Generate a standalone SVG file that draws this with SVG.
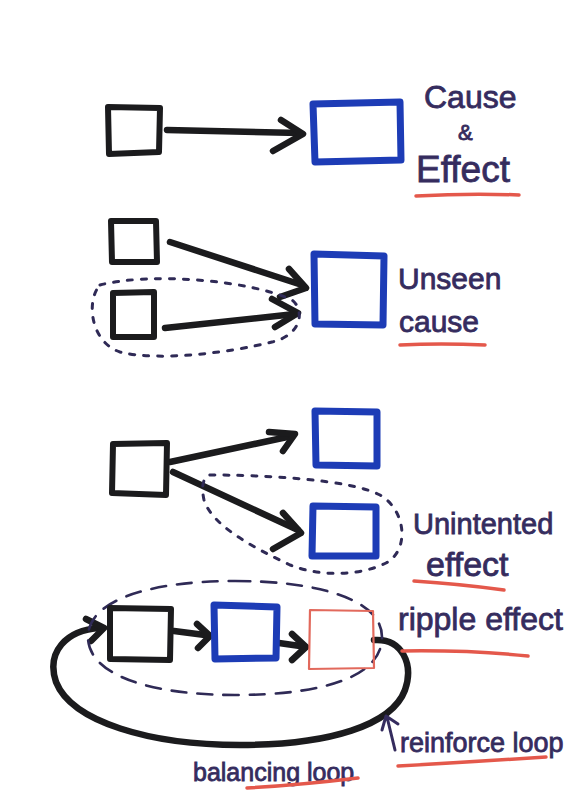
<svg xmlns="http://www.w3.org/2000/svg" width="573" height="791" viewBox="0 0 573 791">
  <style>
    .bk { fill: none; stroke: #1b1b1d; stroke-width: 6; stroke-linejoin: round; stroke-linecap: round; }
    .bl { fill: none; stroke: #1d3cb6; stroke-width: 7; stroke-linejoin: round; stroke-linecap: round; }
    .rd { fill: none; stroke: #e2695c; stroke-width: 2.2; stroke-linejoin: round; }
    .arr { fill: none; stroke: #1b1b1d; stroke-width: 6.5; stroke-linecap: round; stroke-linejoin: round; }
    .dot { fill: none; stroke: #2f2a56; stroke-width: 3; stroke-linecap: round; stroke-dasharray: 5 9; }
    .dash { fill: none; stroke: #2f2a56; stroke-width: 2.6; stroke-linecap: round; stroke-dasharray: 15 11; }
    .ul { fill: none; stroke: #e4584b; stroke-width: 3.5; stroke-linecap: round; }
    .lbl { font-family: "Liberation Sans", Arial, sans-serif; fill: #352c5e; stroke: #352c5e; stroke-width: 0.8; }
  </style>
  <rect width="573" height="791" fill="#ffffff"/>

  <!-- connectors -->
  <g id="connectors">
    <!-- cause and effect -->
    <path class="arr" d="M167,130 L300,133"/>
    <path class="arr" d="M281,120 L303,134 L273,151"/>
    <!-- unseen cause -->
    <path class="arr" d="M170,242 L302,285"/>
    <path class="arr" d="M289,269 L306,288 L280,297"/>
    <path class="arr" d="M165,328 L295,314"/>
    <path class="arr" d="M272,299 L298,313 L275,327"/>
    <!-- unintended effect -->
    <path class="arr" d="M170,462 L292,436"/>
    <path class="arr" d="M269,432 L295,434 L283,451"/>
    <path class="arr" d="M173,472 L298,530"/>
    <path class="arr" d="M283,513 L301,533 L273,549"/>
    <!-- ripple effect chain -->
    <path class="arr" d="M174,631 L205,635"/>
    <path class="arr" d="M197,624 L210,636 L198,648"/>
    <path class="arr" d="M279,643 L300,646"/>
    <path class="arr" d="M292,634 L306,647 L292,660"/>
    <!-- feedback loop -->
    <path class="arr" d="M374,640 C402,638 414,664 405,690 C392,725 330,745 240,745 C150,745 72,722 56,682 C46,652 66,630 100,628"/>
    <path class="arr" d="M86,619 L104,628 L91,641"/>
  </g>

  <!-- groupings -->
  <g id="groupings">
    <path class="dot" d="M100,285 C150,272 250,280 292,300 C305,310 302,335 272,342 C232,352 160,362 120,352 C90,342 86,300 100,285 Z"/>
    <path class="dot" d="M210,475 C260,475 350,479 380,495 C406,510 410,550 386,563 C360,576 320,577 290,565 C250,546 212,525 204,500 C201,486 203,477 210,475 Z"/>
    <path class="dash" d="M235,581 C320,581 382,600 382,637 C382,678 320,695 235,695 C150,695 88,675 88,637 C88,600 150,581 235,581 Z"/>
  </g>

  <!-- cause and effect -->
  <g id="ce-cause"><path class="bk" d="M108,107 L160,108 L159,152 L109,154 Z"/></g>
  <g id="ce-effect"><path class="bl" d="M313,104 L400,102 L401,160 L315,162 Z"/></g>
  <g id="ce-label">
    <text class="lbl" x="424" y="108" font-size="32">Cause</text>
    <text class="lbl" x="458" y="140" font-size="22">&amp;</text>
    <text class="lbl" x="416" y="182" font-size="37">Effect</text>
    <path class="ul" d="M416,196 Q470,193 519,195"/>
  </g>

  <!-- unseen cause -->
  <g id="uc-cause-a"><path class="bk" d="M111,221 L156,221 L157,262 L112,262 Z"/></g>
  <g id="uc-cause-b"><path class="bk" d="M113,293 L154,292 L154,337 L113,337 Z"/></g>
  <g id="uc-effect"><path class="bl" d="M314,254 L384,256 L383,325 L315,324 Z"/></g>
  <g id="uc-label">
    <text class="lbl" x="398" y="289" font-size="30">Unseen</text>
    <text class="lbl" x="399" y="332" font-size="30">cause</text>
    <path class="ul" d="M400,345 Q440,343 485,345"/>
  </g>

  <!-- unintended effect -->
  <g id="ue-cause"><path class="bk" d="M113,444 L167,443 L166,495 L112,493 Z"/></g>
  <g id="ue-effect-a"><path class="bl" d="M315,411 L377,412 L377,466 L316,465 Z"/></g>
  <g id="ue-effect-b"><path class="bl" d="M313,506 L376,507 L376,556 L312,556 Z"/></g>
  <g id="ue-label">
    <text class="lbl" x="413" y="534" font-size="29">Unintented</text>
    <text class="lbl" x="426" y="576" font-size="34">effect</text>
    <path class="ul" d="M414,581 Q460,584 504,590"/>
  </g>

  <!-- ripple effect -->
  <g id="re-a"><path class="bk" d="M110,608 L171,609 L170,660 L110,659 Z"/></g>
  <g id="re-b"><path class="bl" d="M214,605 L277,607 L276,658 L215,659 Z"/></g>
  <g id="re-c"><path class="rd" d="M310,610 L373,611 L374,668 L309,669 Z"/></g>
  <g id="re-label">
    <text class="lbl" x="398" y="630" font-size="32">ripple effect</text>
    <path class="ul" d="M402,651 Q470,650 528,656"/>
  </g>

  <!-- loop labels -->
  <g id="reinforce-label">
    <path fill="none" stroke="#352c5e" stroke-width="3" stroke-linecap="round" stroke-linejoin="round" d="M395,750 L387,717 M382,730 L386,716 L398,724"/>
    <text class="lbl" x="400" y="752" font-size="27">reinforce loop</text>
    <path class="ul" d="M398,766 Q470,762 546,757"/>
  </g>
  <g id="balancing-label">
    <text class="lbl" x="193" y="781" font-size="25">balancing loop</text>
    <path class="ul" d="M247,788 Q300,785 358,778"/>
  </g>
</svg>
